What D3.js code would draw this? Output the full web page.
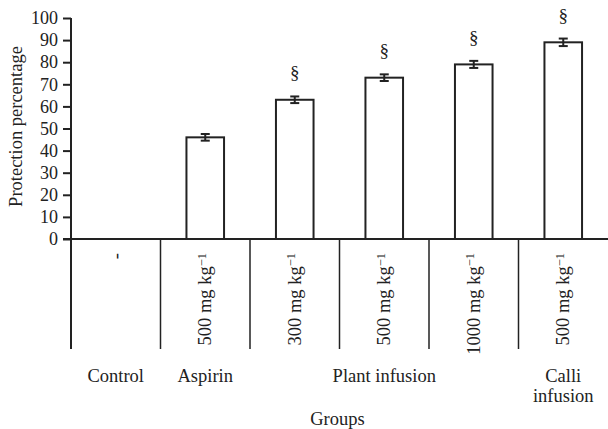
<!doctype html>
<html>
<head>
<style>
  body { margin: 0; background: #fff; }
  svg { display: block; }
  text { font-family: "Liberation Serif", "Times New Roman", serif; fill: #222; }
</style>
</head>
<body>
<svg id="chart" width="608" height="429"></svg>
<script src="https://d3js.org/d3.v7.min.js"></script>
<script>
// data
var groups = ["control", "aspirin", "plant300", "plant500", "plant1000", "calli500"];
var doses = ["-", "500", "300", "500", "1000", "500"];
var values = [0, 46, 63, 73, 79, 89];
var errors = [0, 1.5, 1.5, 1.5, 1.6, 1.7];
var marked = [false, false, true, true, true, true];
var groupNames = [
  {text: ["Control"], from: 0, to: 0},
  {text: ["Aspirin"], from: 1, to: 1},
  {text: ["Plant infusion"], from: 2, to: 4},
  {text: ["Calli", "infusion"], from: 5, to: 5}
];
var yTicks = [0, 10, 20, 30, 40, 50, 60, 70, 80, 90, 100];

var svg = d3.select("#chart");
var plotL = 71, plotR = 608, plotT = 18, base = 239;
var ink = "#222";

var x = d3.scaleBand().domain(groups).range([plotL, plotR]).paddingInner(0).paddingOuter(0);
var y = d3.scaleLinear().domain([0, 100]).range([base, plotT]);
var barW = x.bandwidth() * 0.42;

// y axis
var yAxis = d3.axisLeft(y).tickValues(yTicks).tickSize(8).tickPadding(5);
var gy = svg.append("g").attr("transform", "translate(" + plotL + ",0)").call(yAxis);
gy.select(".domain").attr("stroke", ink).attr("stroke-width", 2).attr("d", "M0," + (base + 110) + "V" + plotT);
gy.selectAll(".tick line").attr("stroke", ink).attr("stroke-width", 2);
gy.selectAll(".tick text").attr("font-size", 18).attr("fill", ink);

// baseline across
svg.append("line").attr("x1", plotL - 8).attr("x2", plotR).attr("y1", base).attr("y2", base)
  .attr("stroke", ink).attr("stroke-width", 2);

// category separators below axis
svg.selectAll(".sep").data(groups.slice(1)).enter().append("line")
  .attr("x1", function(d) { return x(d); }).attr("x2", function(d) { return x(d); })
  .attr("y1", base).attr("y2", base + 110)
  .attr("stroke", ink).attr("stroke-width", 1.5);

// bars
var bar = svg.selectAll(".bar").data(groups).enter().append("g");
bar.filter(function(d, i) { return values[i] > 0; }).append("rect")
  .attr("x", function(d) { return x(d) + (x.bandwidth() - barW) / 2; })
  .attr("y", function(d) { return y(values[groups.indexOf(d)]); })
  .attr("width", barW)
  .attr("height", function(d) { return base - y(values[groups.indexOf(d)]); })
  .attr("fill", "#fff").attr("stroke", ink).attr("stroke-width", 2);

// error bars
bar.filter(function(d, i) { return values[i] > 0; }).each(function(d) {
  var i = groups.indexOf(d);
  var cx = x(d) + x.bandwidth() / 2;
  var g = d3.select(this);
  g.append("line").attr("x1", cx).attr("x2", cx)
    .attr("y1", y(values[i] + errors[i])).attr("y2", y(values[i] - errors[i]))
    .attr("stroke", ink).attr("stroke-width", 2);
  [values[i] + errors[i], values[i] - errors[i]].forEach(function(v) {
    g.append("line").attr("x1", cx - 4.5).attr("x2", cx + 4.5)
      .attr("y1", y(v)).attr("y2", y(v)).attr("stroke", ink).attr("stroke-width", 2);
  });
  if (marked[i]) {
    g.append("text").attr("x", cx).attr("y", y(values[i] + errors[i]) - 17)
      .attr("text-anchor", "middle").attr("font-size", 19).text("\u00a7");
  }
});

// dose labels, rotated
svg.selectAll(".dose").data(groups).enter().append("text")
  .attr("transform", function(d) {
    return "translate(" + (x(d) + x.bandwidth() / 2 + 6) + "," + (base + 14) + ") rotate(-90)";
  })
  .attr("text-anchor", "end").attr("font-size", 18.5)
  .each(function(d, i) {
    var t = d3.select(this);
    if (doses[i] === "-") { t.text("-"); return; }
    t.append("tspan").text(doses[i] + " mg kg");
    t.append("tspan").attr("dy", "-0.45em").attr("font-size", 12.5).text("\u22121");
  });

// group names
svg.selectAll(".grp").data(groupNames).enter().append("text")
  .attr("text-anchor", "middle").attr("font-size", 18.5)
  .each(function(d) {
    var cx = (x(groups[d.from]) + x(groups[d.to]) + x.bandwidth()) / 2;
    var t = d3.select(this);
    d.text.forEach(function(s, k) {
      t.append("tspan").attr("x", cx).attr("y", 382 + k * 20).text(s);
    });
  });

// axis titles
svg.append("text").attr("x", (plotL + plotR) / 2 - 2).attr("y", 425)
  .attr("text-anchor", "middle").attr("font-size", 18.5).text("Groups");
svg.append("text").attr("transform", "translate(22," + ((plotT + base) / 2 - 2) + ") rotate(-90)")
  .attr("text-anchor", "middle").attr("font-size", 18.5).text("Protection percentage");
</script>
</body>
</html>
